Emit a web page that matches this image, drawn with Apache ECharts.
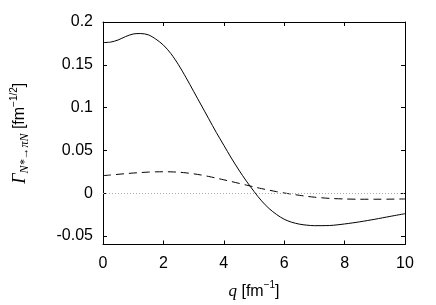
<!DOCTYPE html>
<html>
<head>
<meta charset="utf-8">
<script src="https://cdn.jsdelivr.net/npm/echarts@6/dist/echarts.min.js"></script>
<style>html,body{margin:0;padding:0;background:#fff}#c{width:436px;height:305px}</style>
</head>
<body>
<div id="c"></div>
<script>
const qValues = [0,0.25,0.5,0.75,1,1.25,1.5,1.75,2,2.25,2.5,2.75,3,3.25,3.5,3.75,4,4.25,4.5,4.75,5,5.25,5.5,5.75,6,6.25,6.5,6.75,7,7.5,8,8.5,9,9.5,10];
const solidValues = [0.176,0.1765,0.179,0.183,0.186,0.1865,0.185,0.180,0.173,0.163,0.150,0.135,0.119,0.103,0.087,0.071,0.056,0.041,0.027,0.014,0.002,-0.009,-0.018,-0.025,-0.0305,-0.034,-0.0362,-0.0374,-0.038,-0.0378,-0.036,-0.0335,-0.0305,-0.0272,-0.024];
const dashedValues = [0.0205,0.0212,0.022,0.0228,0.0235,0.0241,0.0246,0.0249,0.025,0.0249,0.0245,0.0237,0.0226,0.0212,0.0195,0.0176,0.0156,0.0136,0.0115,0.0094,0.0073,0.0053,0.0035,0.0017,0.0002,-0.0012,-0.0025,-0.0037,-0.0047,-0.0061,-0.0068,-0.0071,-0.0071,-0.007,-0.0068];
const yTicks = [-0.05,0,0.05,0.1,0.15,0.2];

const chart = echarts.init(document.getElementById('c'), null, {renderer:'canvas'});
const sans = 'Liberation Sans';
const serif = 'Liberation Serif';
const tickStyle = {inside:true, length:4, lineStyle:{color:'#000', width:1}};
const axisLine = {show:true, onZero:false, lineStyle:{color:'#000', width:1}};
const pair = (vals) => qValues.map((q,i)=>[q, vals[i]]);

chart.setOption({
  animation:false,
  backgroundColor:'#fff',
  grid:{left:103, right:31, top:22, bottom:55},
  xAxis:[{
    type:'value', min:0, max:10, interval:2, position:'bottom',
    axisLine, axisTick:tickStyle, splitLine:{show:false},
    axisLabel:{fontFamily:sans, fontSize:16, color:'#000', margin:11},
    name:'{q|q}{n| [fm}{p|−1}{n|]}', nameLocation:'middle', nameGap:36,
    nameTextStyle:{rich:{
      q:{fontFamily:serif, fontStyle:'italic', fontSize:17, color:'#000', lineHeight:22, verticalAlign:'middle'},
      n:{fontFamily:sans, fontSize:16, color:'#000', lineHeight:22, verticalAlign:'middle'},
      p:{fontFamily:sans, fontSize:10, color:'#000', lineHeight:10, verticalAlign:'top'}
    }}
  },{
    type:'value', min:0, max:10, interval:2, position:'top',
    axisLine, axisTick:tickStyle, axisLabel:{show:false}, splitLine:{show:false}
  }],
  yAxis:[{
    type:'value', min:-0.06, max:0.2, position:'left',
    axisLine, splitLine:{show:false},
    axisTick:Object.assign({customValues:yTicks}, tickStyle),
    axisLabel:{customValues:yTicks, fontFamily:sans, fontSize:16, color:'#000', margin:10},
    name:'{g|Γ}{s|N*→πN}{n| [fm}{p|−1/2}{n|]}', nameLocation:'middle', nameGap:72, nameRotate:90,
    nameTextStyle:{rich:{
      g:{fontFamily:serif, fontStyle:'italic', fontSize:18, color:'#000', lineHeight:22, verticalAlign:'middle'},
      s:{fontFamily:serif, fontStyle:'italic', fontSize:12, color:'#000', lineHeight:10, verticalAlign:'bottom'},
      n:{fontFamily:sans, fontSize:16, color:'#000', lineHeight:22, verticalAlign:'middle'},
      p:{fontFamily:sans, fontSize:10, color:'#000', lineHeight:10, verticalAlign:'top'}
    }}
  },{
    type:'value', min:-0.06, max:0.2, position:'right',
    axisLine, splitLine:{show:false},
    axisTick:Object.assign({customValues:yTicks}, tickStyle),
    axisLabel:{show:false}
  }],
  series:[{
    type:'line', data:pair(solidValues), smooth:0.3, showSymbol:false,
    lineStyle:{color:'#000', width:1}, silent:true, z:3,
    markLine:{silent:true, symbol:'none', label:{show:false},
      lineStyle:{color:'#aaa', width:1, type:[1,2]},
      data:[{yAxis:0}]}
  },{
    type:'line', data:pair(dashedValues), smooth:0.3, showSymbol:false,
    lineStyle:{color:'#000', width:1, type:[8,5]}, silent:true, z:3
  }]
});
</script>
</body>
</html>
